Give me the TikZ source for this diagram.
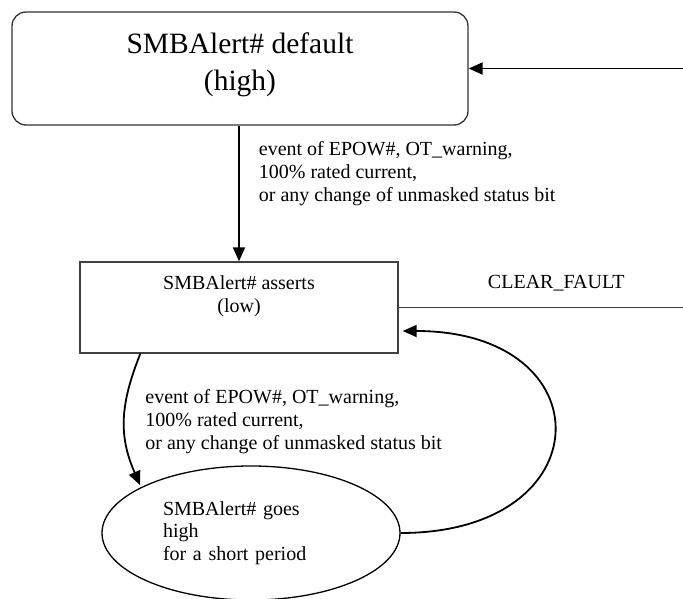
\documentclass[tikz,border=0pt]{standalone}
\usepackage{fontspec}
\setmainfont{Liberation Serif}
\usetikzlibrary{shapes.geometric, arrows.meta, positioning}
\tikzstyle{defaultstate} = [rectangle, rounded corners=14pt, minimum width=456pt, minimum height=113pt, inner sep=0pt, draw=black!80, line width=1.3pt]
\tikzstyle{state} = [rectangle, minimum width=318pt, minimum height=91pt, inner sep=0pt, draw=black!75, line width=1.3pt]
\tikzstyle{pulse} = [ellipse, minimum width=298pt, minimum height=134pt, inner sep=0pt, text width=176pt, align=left, draw=black, line width=1.3pt, font=\fontsize{20}{22.5}\selectfont]
\tikzstyle{condition} = [align=left, inner sep=0pt, font=\fontsize{20}{23}\selectfont]
\tikzstyle{arrow} = [line width=1.8pt, -{Triangle[length=14pt, width=12pt]}]
\tikzstyle{plainline} = [line width=1.3pt, draw=black!75]

\begin{document}
\begin{tikzpicture}[x=1pt, y=-1pt]
    \useasboundingbox (0,0) rectangle (683,599);
    \node[defaultstate] (default) at (240,68.5) {\parbox[c][113pt][t]{456pt}{\centering\fontsize{29.5}{37}\selectfont\vspace*{20.5pt}SMBAlert\# default\\(high)}};
    \node[state] (asserts) at (239,307.5) {\parbox[c][91pt][t]{318pt}{\centering\fontsize{20}{22.5}\selectfont\vspace*{13.8pt}SMBAlert\# asserts\\(low)}};
    \node[pulse] (goesHigh) at (251,533) {SMBAlert\# goes\\high\\for a short period};
    \coordinate (clearFault) at (683,307.5);
    \coordinate (backToDefault) at (683,68.5);

    \draw[arrow] (backToDefault) -- (default.east);
    \draw[arrow] (asserts.north |- default.south) -- node[condition, pos=0.11, anchor=north west, xshift=19pt] {event of EPOW\#, OT\_warning,\\100\% rated current,\\or any change of unmasked status bit} (asserts.north);
    \draw[plainline] (asserts.east) -- node[condition, anchor=base, xshift=15.5pt, yshift=19pt] {CLEAR\_FAULT} (clearFault);
    \draw[arrow] ([xshift=61pt]asserts.south west) .. controls +(-20,50) and +(-22,-50) .. node[condition, anchor=west, xshift=20pt, yshift=-2pt] {event of EPOW\#, OT\_warning,\\100\% rated current,\\or any change of unmasked status bit} ([xshift=-5pt]goesHigh.north west);
    \draw[arrow] (goesHigh.east) .. controls +(203,0) and +(203,0) .. ([xshift=4pt, yshift=-23.5pt]asserts.east);
\end{tikzpicture}
\end{document}
